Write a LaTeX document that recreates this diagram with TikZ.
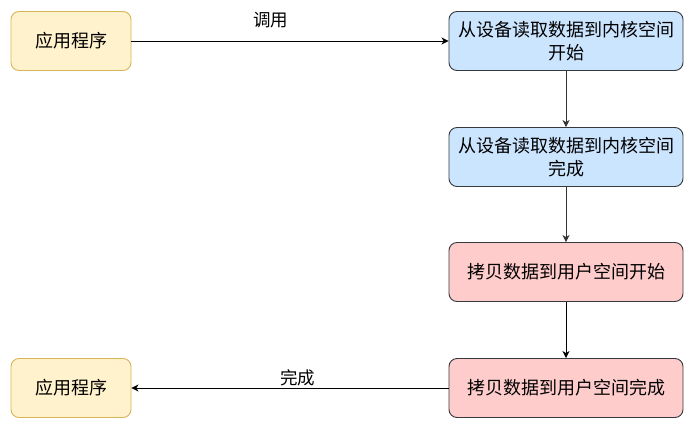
\documentclass[tikz,border=0pt]{standalone}
\usepackage{fontspec}
\setmainfont{Noto Sans CJK SC}
\usetikzlibrary{arrows.meta}
\definecolor{yfill}{HTML}{FFF2CC}
\definecolor{ydraw}{HTML}{D6B656}
\definecolor{bfill}{HTML}{CCE5FF}
\definecolor{rfill}{HTML}{FFCCCC}
\definecolor{ddraw}{HTML}{36393D}
\definecolor{garrow}{HTML}{333333}
\begin{document}
\begin{tikzpicture}[x=1pt,y=-1pt,
  base/.style={rounded corners=8pt, line width=0.9pt, minimum height=59pt, inner sep=0pt, align=center, font=\fontsize{18}{23}\selectfont},
  appbox/.style={base, fill=yfill, draw=ydraw, minimum width=120pt},
  kbox/.style={base, fill=bfill, draw=ddraw, minimum width=234pt},
  ubox/.style={base, fill=rfill, draw=ddraw, minimum width=234pt},
  conn/.style={line width=1pt, -{Stealth[length=7pt,width=7pt,inset=2pt]}},
  lbl/.style={font=\fontsize{17.5}{20}\selectfont, inner sep=0pt}
]
\useasboundingbox (0,0) rectangle (689,432);
\node[appbox] (app1) at (71,41) {应用程序};
\node[kbox] (k1) at (566,41) {从设备读取数据到内核空间\\开始};
\node[kbox] (k2) at (566,157) {从设备读取数据到内核空间\\完成};
\node[ubox] (u1) at (566,272) {拷贝数据到用户空间开始};
\node[ubox] (u2) at (566,388) {拷贝数据到用户空间完成};
\node[appbox] (app2) at (71,388) {应用程序};
\draw[conn] (app1) -- node[lbl, pos=0.44, yshift=20.5pt] {调用} (k1);
\draw[conn, draw=garrow] (k1) -- (k2);
\draw[conn, draw=garrow] (k2) -- (u1);
\draw[conn] (u1) -- (u2);
\draw[conn] (u2) -- node[lbl, pos=0.475, yshift=10.5pt] {完成} (app2);
\end{tikzpicture}
\end{document}
